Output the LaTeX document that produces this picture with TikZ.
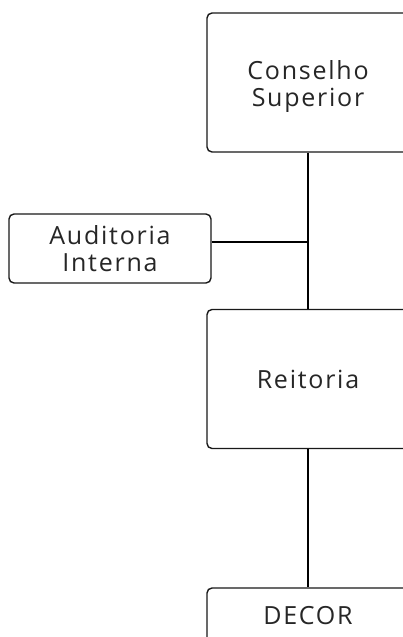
\documentclass[tikz,border=0pt]{standalone}
\usepackage{fontspec}
\setmainfont[LetterSpace=7]{Open Sans}
\begin{document}
\begin{tikzpicture}[x=1pt,y=-1pt,
  boxfont/.style={font=\fontsize{25}{26.5}\selectfont, text=black!85},
  orgbox/.style={draw=black!90, line width=1.4pt, rounded corners=5pt, fill=white,
    minimum width=202pt, minimum height=#1, align=center, inner sep=0pt, boxfont},
  link/.style={draw=black, line width=1.8pt}]
\path[use as bounding box] (0,0) rectangle (403,637);
\clip (0,0) rectangle (403,637);
\node[orgbox=139pt] (cs) at (308,82.5) {\rule{0pt}{27pt}Conselho\\Superior};
\node[orgbox=69pt] (aud) at (110,248.5) {Auditoria\\Interna};
\node[orgbox=139pt] (rei) at (308,379) {Reitoria};
\node[orgbox=139pt] (dec) at (308,657.5) {};
\node[boxfont] (dect) at (308,616) {DECOR};
\coordinate (j) at (308,242);
\draw[link] (cs.south) -- (rei.north);
\draw[link] (aud.east |- j) -- (j);
\draw[link] (rei.south) -- (dec.north);
\end{tikzpicture}
\end{document}
